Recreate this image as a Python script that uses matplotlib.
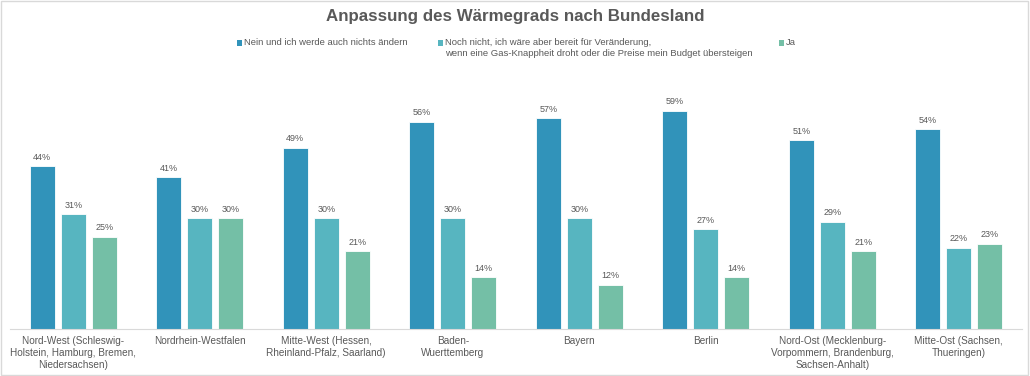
import numpy as np
import matplotlib.pyplot as plt
from matplotlib.patches import Rectangle

plt.rcParams['font.family'] = ['Liberation Sans', 'DejaVu Sans']

regionen = ['Nord-West (Schleswig-\nHolstein, Hamburg, Bremen,\nNiedersachsen)',
            'Nordrhein-Westfalen',
            'Mitte-West (Hessen,\nRheinland-Pfalz, Saarland)',
            'Baden-\nWuerttemberg',
            'Bayern',
            'Berlin',
            'Nord-Ost (Mecklenburg-\nVorpommern, Brandenburg,\nSachsen-Anhalt)',
            'Mitte-Ost (Sachsen,\nThueringen)']

nein = [44, 41, 49, 56, 57, 59, 51, 54]
noch_nicht = [31, 30, 30, 30, 30, 27, 29, 22]
ja = [25, 30, 21, 14, 12, 14, 21, 23]

serien = ['Nein und ich werde auch nichts ändern',
          'Noch nicht, ich wäre aber bereit für Veränderung,\nwenn eine Gas-Knappheit droht oder die Preise mein Budget übersteigen',
          'Ja']
farben = ['#3193BA', '#57B5C0', '#74BFA6']
grau = '#595959'

W, H = 1030, 376
fig = plt.figure(figsize=(W / 100, H / 100), dpi=100)
ax = fig.add_axes([10/W, 47/H, 1012/W, 259/H])

x = np.arange(len(regionen))
w = 0.2
abstand = 0.245
for i, (werte, name, farbe) in enumerate(zip([nein, noch_nicht, ja], serien, farben)):
    pos = x + (i - 1) * abstand
    bars = ax.bar(pos, werte, width=w, color=farbe, label=name,
                  edgecolor='white', linewidth=0.6)
    for b, v in zip(bars, werte):
        ax.text(b.get_x() + b.get_width() / 2, v + 1.2, f'{v}%',
                ha='center', va='bottom', fontsize=6.5, color=grau)

ax.set_xlim(-0.5, len(regionen) - 0.5)
ax.set_ylim(0, 70)
ax.set_yticks([])
ax.set_xticks(x)
ax.set_xticklabels(regionen, fontsize=7.2, color=grau, linespacing=1.25)
ax.tick_params(axis='x', length=0, pad=5)
for s in ['top', 'right', 'left']:
    ax.spines[s].set_visible(False)
ax.spines['bottom'].set_color('#D9D9D9')

fig.text(0.5, 1 - 17/H, 'Anpassung des Wärmegrads nach Bundesland',
         ha='center', va='center', fontsize=12.2, fontweight='bold', color=grau)

# Legende von Hand, damit das Kästchen an der ersten Zeile sitzt
leg_x = [237, 438, 779]
leg_y = 43
for lx, name, farbe in zip(leg_x, serien, farben):
    fig.add_artist(Rectangle((lx / W, 1 - (leg_y + 2.5) / H), 5 / W, 5 / H,
                             transform=fig.transFigure, facecolor=farbe, edgecolor='none'))
    fig.text((lx + 7) / W, 1 - (leg_y - 5) / H, name, ha='left', va='top',
             fontsize=6.8, color=grau, linespacing=1.3)

fig.add_artist(Rectangle((0.001, 0.002), 0.997, 0.995, transform=fig.transFigure,
                         fill=False, edgecolor='#D9D9D9', linewidth=1))

fig.savefig('out.png', dpi=100)
